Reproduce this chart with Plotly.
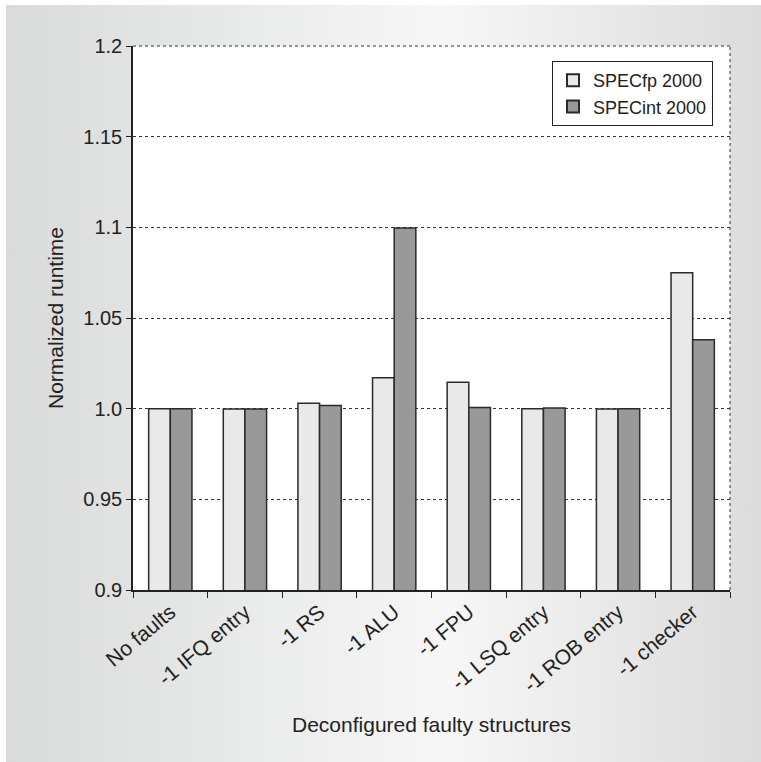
import base64
import plotly.graph_objects as go

categories = ["No faults", "-1 IFQ entry", "-1 RS", "-1 ALU", "-1 FPU",
              "-1 LSQ entry", "-1 ROB entry", "-1 checker"]
specfp = [1.0, 0.9998, 1.003, 1.017, 1.0145, 1.0, 0.9998, 1.075]
specint = [1.0, 0.9998, 1.0018, 1.0997, 1.0006, 1.0004, 1.0, 1.038]
ytickvals = [0.9, 0.95, 1.0, 1.05, 1.1, 1.15, 1.2]
yticktext = ["0.9", "0.95", "1.0", "1.05", "1.1", "1.15", "1.2"]

FONT = "Liberation Sans, Arial, Helvetica, sans-serif"
INK = "#222222"

svg = ('<svg xmlns="http://www.w3.org/2000/svg" width="100" height="100" '
       'viewBox="0 0 100 100" preserveAspectRatio="none"><defs>'
       '<linearGradient id="g" x1="0" y1="0" x2="1" y2="0">'
       '<stop offset="0" stop-color="#d9dada"/>'
       '<stop offset="0.55" stop-color="#f7f7f7"/>'
       '<stop offset="1" stop-color="#d8d8d8"/>'
       '</linearGradient></defs>'
       '<rect width="100" height="100" fill="url(#g)"/></svg>')
bg_uri = "data:image/svg+xml;base64," + base64.b64encode(svg.encode()).decode()

W, H = 761, 762
L, R, T, B = 133, 31, 46, 172
pw, ph = W - L - R, H - T - B

def px2paper_x(px):
    return (px - L) / pw

def px2paper_y(py):
    return (H - B - py) / ph

fig = go.Figure()
fig.add_trace(go.Bar(
    name="SPECfp 2000", x=categories, y=specfp,
    marker=dict(color="#e9e9e9", line=dict(color="#2a2a2a", width=1.5)),
))
fig.add_trace(go.Bar(
    name="SPECint 2000", x=categories, y=specint,
    marker=dict(color="#999999", line=dict(color="#2a2a2a", width=1.5)),
))

fig.update_layout(
    width=W, height=H,
    margin=dict(l=L, r=R, t=T, b=B, pad=0),
    paper_bgcolor="white",
    plot_bgcolor="rgba(0,0,0,0)",
    font=dict(family=FONT, size=20, color=INK),
    barmode="group", bargap=0.42, bargroupgap=0,
    showlegend=True,
    legend=dict(
        x=px2paper_x(713), y=px2paper_y(61), xanchor="right", yanchor="top",
        bgcolor="white", bordercolor="#222222", borderwidth=1,
        font=dict(size=18, color=INK), itemsizing="constant",
    ),
    images=[dict(
        source=bg_uri, xref="paper", yref="paper",
        x=px2paper_x(6), y=px2paper_y(5),
        sizex=px2paper_x(W + 40) - px2paper_x(6),
        sizey=px2paper_y(5) - px2paper_y(H + 40),
        xanchor="left", yanchor="top", sizing="stretch", layer="below",
    )],
    shapes=[
        dict(type="rect", xref="paper", yref="paper", x0=0, x1=1, y0=0, y1=1,
             fillcolor="white", line=dict(width=0), layer="below"),
        dict(type="line", xref="paper", yref="paper", x0=0, x1=1, y0=1, y1=1,
             line=dict(color="#333333", width=1, dash="dot"), layer="above"),
        dict(type="line", xref="paper", yref="paper", x0=1, x1=1, y0=0, y1=1,
             line=dict(color="#333333", width=1, dash="dot"), layer="above"),
    ],
)

fig.update_xaxes(
    type="category", tickson="boundaries",
    showline=True, linecolor=INK, linewidth=1.5,
    ticks="outside", ticklen=6, tickwidth=1.2, tickcolor=INK,
    tickangle=-40, tickfont=dict(size=21),
    showgrid=False,
    title=dict(text="Deconfigured faulty structures", font=dict(size=21), standoff=22),
)
fig.update_yaxes(
    range=[0.9, 1.2], tickvals=ytickvals, ticktext=yticktext,
    showline=True, linecolor=INK, linewidth=1.5,
    ticks="outside", ticklen=5, tickwidth=1.2, tickcolor=INK,
    tickfont=dict(size=20),
    showgrid=True, gridcolor="#333333", gridwidth=1, griddash="dot",
    zeroline=False,
    title=dict(text="Normalized runtime", font=dict(size=21), standoff=14),
)

fig.write_html(
    "out.html",
    config={"displayModeBar": False},
    post_script="document.body.style.margin='0px';document.body.style.overflow='hidden';",
)
